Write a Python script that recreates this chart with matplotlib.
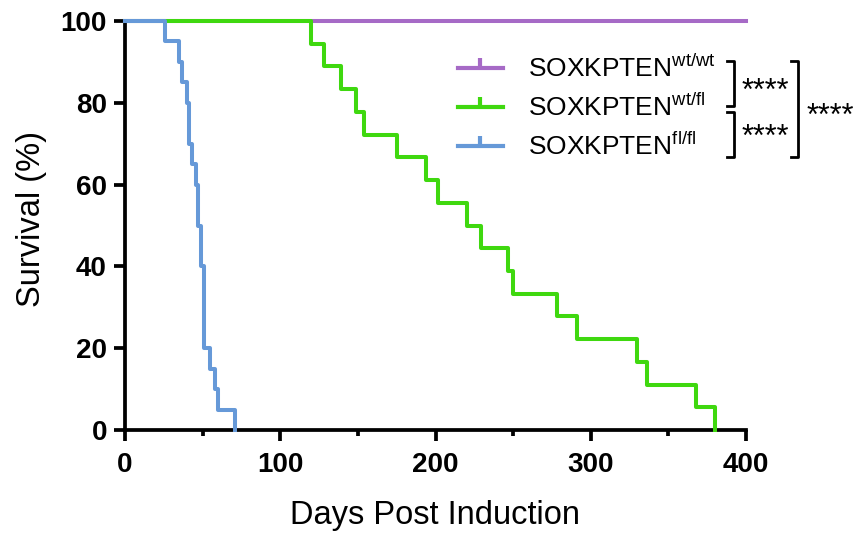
import matplotlib
matplotlib.use("Agg")
import matplotlib.pyplot as plt
from matplotlib.lines import Line2D

plt.rcParams['font.family'] = ['Liberation Sans', 'DejaVu Sans']
plt.rcParams['mathtext.default'] = 'regular'

# Kaplan-Meier step data (days, % survival)
wt_wt_days = [0, 400]
wt_wt_surv = [100, 100]

wt_fl_days = [0, 120, 128, 139, 148.5, 154, 175, 194, 201.5, 220.5, 229.5,
              246.5, 250, 278.5, 291, 330, 336, 368, 380]
wt_fl_surv = [100, 94.4, 88.9, 83.3, 77.8, 72.2, 66.7, 61.1, 55.6, 50.0, 44.4,
              38.9, 33.3, 27.8, 22.2, 16.7, 11.1, 5.6, 0]

fl_fl_days = [0, 26, 35, 37, 40, 41, 43, 45.5, 47, 49, 51, 55, 58, 60, 71]
fl_fl_surv = [100, 95, 90, 85, 80, 70, 65, 60, 50, 40, 20, 15, 10, 5, 0]

labels = ['SOXKPTEN$^{wt/wt}$', 'SOXKPTEN$^{wt/fl}$', 'SOXKPTEN$^{fl/fl}$']
colors = ['#A66AC6', '#3FD80F', '#6699D8']
x_ticks = [0, 100, 200, 300, 400]
y_ticks = [0, 20, 40, 60, 80, 100]

fig = plt.figure(figsize=(8.56, 5.34), dpi=100)
ax = fig.add_axes([125 / 856, 1 - 430 / 534, 621 / 856, 409 / 534])

series = [(wt_wt_days, wt_wt_surv), (wt_fl_days, wt_fl_surv), (fl_fl_days, fl_fl_surv)]
for (d, s), c in zip(series, colors):
    ax.step(d, s, where='post', color=c, lw=2.9, clip_on=False, zorder=3)

ax.set_xlim(0, 400)
ax.set_ylim(0, 100)
ax.set_xticks(x_ticks)
ax.set_xticks([50, 150, 250, 350], minor=True)
ax.set_yticks(y_ticks)
for sp in ['top', 'right']:
    ax.spines[sp].set_visible(False)
for sp in ['left', 'bottom']:
    ax.spines[sp].set_linewidth(2.7)
ax.tick_params(axis='both', which='major', direction='out', length=8, width=2.7,
               labelsize=20)
ax.tick_params(axis='x', which='major', pad=8)
ax.tick_params(axis='y', which='major', pad=5)
ax.tick_params(axis='x', which='minor', direction='out', length=4.5, width=2.7)
for lab in ax.get_xticklabels() + ax.get_yticklabels():
    lab.set_fontweight('bold')

ax.set_xlabel('Days Post Induction', fontsize=23.5, labelpad=16)
ax.set_ylabel('Survival (%)', fontsize=23.5)
ax.yaxis.set_label_coords(-0.1256, 0.517)

# legend with half-tick markers
handles = [Line2D([0], [0], color=c, lw=3, marker=2, markersize=7,
                  markeredgewidth=3) for c in colors]
ax.legend(handles, labels, loc='upper left', bbox_to_anchor=(0.519, 0.9425),
          frameon=False, fontsize=19, handlelength=1.7, handletextpad=0.95,
          labelspacing=0.45, borderaxespad=0)

# significance brackets
def bracket(x, y0, y1, w=0.012):
    ax.plot([x - w, x, x, x - w], [y0, y0, y1, y1], color='black', lw=2.0,
            transform=ax.transAxes, clip_on=False)

bracket(0.981, 0.903, 0.792)
bracket(0.981, 0.778, 0.667)
bracket(1.084, 0.903, 0.667)
ax.text(0.9936, 0.808, '****', transform=ax.transAxes, fontsize=22, va='baseline')
ax.text(0.9936, 0.694, '****', transform=ax.transAxes, fontsize=22, va='baseline')
ax.text(1.098, 0.745, '****', transform=ax.transAxes, fontsize=22, va='baseline')

fig.savefig('out.png', dpi=100)
